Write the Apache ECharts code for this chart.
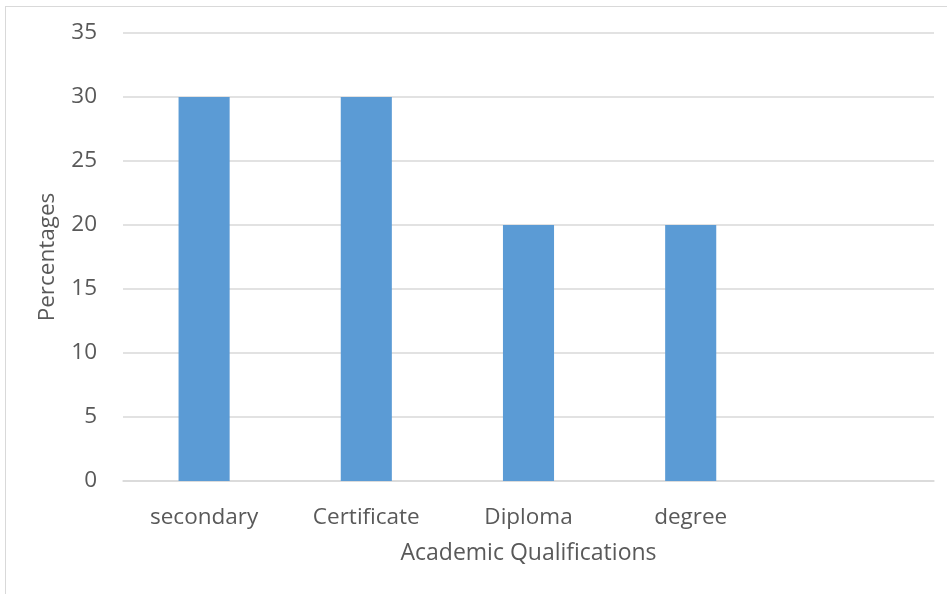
<!DOCTYPE html>
<html>
<head>
<meta charset="utf-8">
<script src="https://cdn.jsdelivr.net/npm/echarts@6/dist/echarts.min.js"></script>
<style>
  html, body { margin: 0; padding: 0; background: #ffffff; }
  #frame { position: absolute; left: 5px; top: 6px; width: 960px; height: 600px;
           border-left: 1.5px solid #d9d9d9; border-top: 1.5px solid #d9d9d9; }
  #chart { position: absolute; left: 0; top: 0; width: 947px; height: 594px; }
</style>
</head>
<body>
<div id="frame"></div>
<div id="chart"></div>
<script>
// Academic qualification shares (percent); the last slot is an empty category
const categories = ['secondary', 'Certificate', 'Diploma', 'degree', ''];
const percentages = [30, 30, 20, 20, null];
const yTicks = { min: 0, max: 35, interval: 5 };

const chart = echarts.init(document.getElementById('chart'), null, { renderer: 'canvas' });
const textColor = '#595959';
const fontFamily = '"Open Sans", sans-serif';

chart.setOption({
  animation: false,
  backgroundColor: 'transparent',
  grid: { left: 123, right: 13, top: 33, bottom: 113, containLabel: false },
  xAxis: {
    type: 'category',
    data: categories,
    name: 'Academic Qualifications',
    nameLocation: 'middle',
    nameGap: 61,
    nameTextStyle: { color: textColor, fontSize: 23, fontFamily },
    axisLine: { show: true, lineStyle: { color: '#d9d9d9', width: 1.5 } },
    axisTick: { show: false },
    axisLabel: { color: textColor, fontSize: 22.5, fontFamily, margin: 25, interval: 0 }
  },
  yAxis: {
    type: 'value',
    min: yTicks.min,
    max: yTicks.max,
    interval: yTicks.interval,
    name: 'Percentages',
    nameLocation: 'middle',
    nameGap: 64,
    nameTextStyle: { color: textColor, fontSize: 22.5, fontFamily },
    axisLine: { show: false },
    axisTick: { show: false },
    splitLine: { lineStyle: { color: '#d9d9d9', width: 1.5 } },
    axisLabel: { color: textColor, fontSize: 22.5, fontFamily, margin: 26 }
  },
  series: [{
    type: 'bar',
    data: percentages,
    barWidth: '31.5%',
    itemStyle: { color: '#5b9bd5' }
  }]
});
</script>
</body>
</html>
